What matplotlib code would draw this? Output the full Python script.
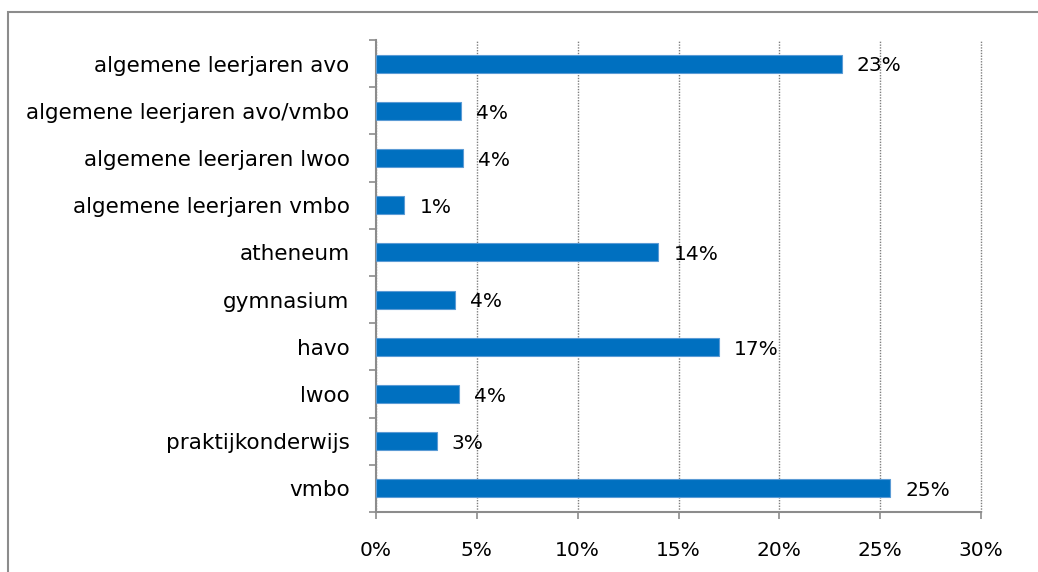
import matplotlib
matplotlib.use("Agg")
import matplotlib.pyplot as plt
from matplotlib.patches import Rectangle
import numpy as np

# categorieen van boven naar beneden
categories = [
    "algemene leerjaren avo",
    "algemene leerjaren avo/vmbo",
    "algemene leerjaren lwoo",
    "algemene leerjaren vmbo",
    "atheneum",
    "gymnasium",
    "havo",
    "lwoo",
    "praktijkonderwijs",
    "vmbo",
]
values = [23.1, 4.2, 4.3, 1.4, 14.0, 3.9, 17.0, 4.1, 3.0, 25.5]
value_labels = ["23%", "4%", "4%", "1%", "14%", "4%", "17%", "4%", "3%", "25%"]
x_ticks = [0, 5, 10, 15, 20, 25, 30]
x_ticklabels = ["0%", "5%", "10%", "15%", "20%", "25%", "30%"]

plt.rcParams['font.family'] = ['DejaVu Sans']
fig = plt.figure(figsize=(10.38, 5.72), dpi=100)
ax = fig.add_axes([376/1038, 1 - 512/572, (981-376)/1038, (512-40)/572])

# rand om de hele grafiek
fig.patches.append(Rectangle((8/1038, -0.1), 1.2, 1 - 12/572 + 0.1,
                             transform=fig.transFigure, fill=False,
                             edgecolor="#8c8c8c", linewidth=1.5))

y = np.arange(len(categories))[::-1]
ax.barh(y, values, height=0.38, color="#0070C0", edgecolor="#5b9bd5", linewidth=0.8, zorder=3)

for yi, v, lab in zip(y, values, value_labels):
    ax.text(v + 0.75, yi - 0.05, lab, va="center", ha="left", fontsize=14.5, color="black")

ax.set_xlim(0, 30)
ax.set_ylim(-0.5, len(categories) - 0.5)
ax.set_xticks(x_ticks)
ax.set_xticklabels(x_ticklabels, fontsize=14.5)
ax.set_yticks(y)
ax.set_yticklabels(categories, fontsize=15.5)
ax.set_yticks(np.arange(len(categories) + 1) - 0.5, minor=True)

ax.tick_params(axis="y", which="major", length=0, pad=19)
ax.tick_params(axis="y", which="minor", length=5, width=1.2, color="#8c8c8c", direction="out")
ax.tick_params(axis="x", which="major", length=5, width=1.2, color="#8c8c8c", pad=16)

ax.grid(axis="x", linestyle=(0, (1, 1)), color="#7f7f7f", linewidth=1.0, zorder=0)
for gl in ax.get_xgridlines():
    gl.set_clip_on(False)
for s in ["top", "right"]:
    ax.spines[s].set_visible(False)
for s in ["left", "bottom"]:
    ax.spines[s].set_color("#8c8c8c")
    ax.spines[s].set_linewidth(1.5)

fig.savefig("out.png", dpi=100)
